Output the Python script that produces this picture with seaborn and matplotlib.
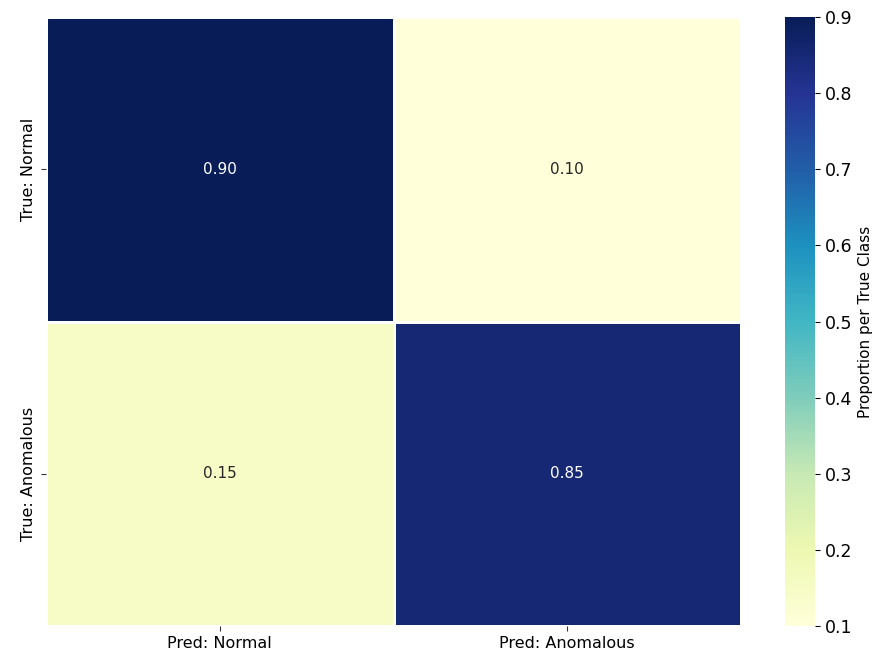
import matplotlib
matplotlib.use("Agg")
import matplotlib.pyplot as plt
import seaborn as sns
import numpy as np
import pandas as pd

# Row-normalised confusion matrix
true_labels = ["True: Normal", "True: Anomalous"]
pred_labels = ["Pred: Normal", "Pred: Anomalous"]
normal_row = [0.90, 0.10]
anomalous_row = [0.15, 0.85]

cm = pd.DataFrame([normal_row, anomalous_row], index=true_labels, columns=pred_labels)

plt.rcParams["font.family"] = ["DejaVu Sans"]

fig = plt.figure(figsize=(8.77, 6.53), dpi=100)
ax = fig.add_axes([0.0525, 0.041, 0.7925, 0.933])
cax = fig.add_axes([0.895, 0.041, 0.034, 0.933])

sns.heatmap(
    cm, ax=ax, cbar_ax=cax, cmap="YlGnBu", annot=True, fmt=".2f",
    linewidths=1, linecolor="white",
    annot_kws={"fontsize": 11},
    cbar_kws={"label": "Proportion per True Class"},
)
ax.tick_params(axis="both", labelsize=11.5, length=3.5, color="#333333")
ax.set_xlabel("")
ax.set_ylabel("")
cax.tick_params(labelsize=12.5, length=3.5)
cax.yaxis.label.set_size(11)

fig.savefig("out.png", dpi=100)
